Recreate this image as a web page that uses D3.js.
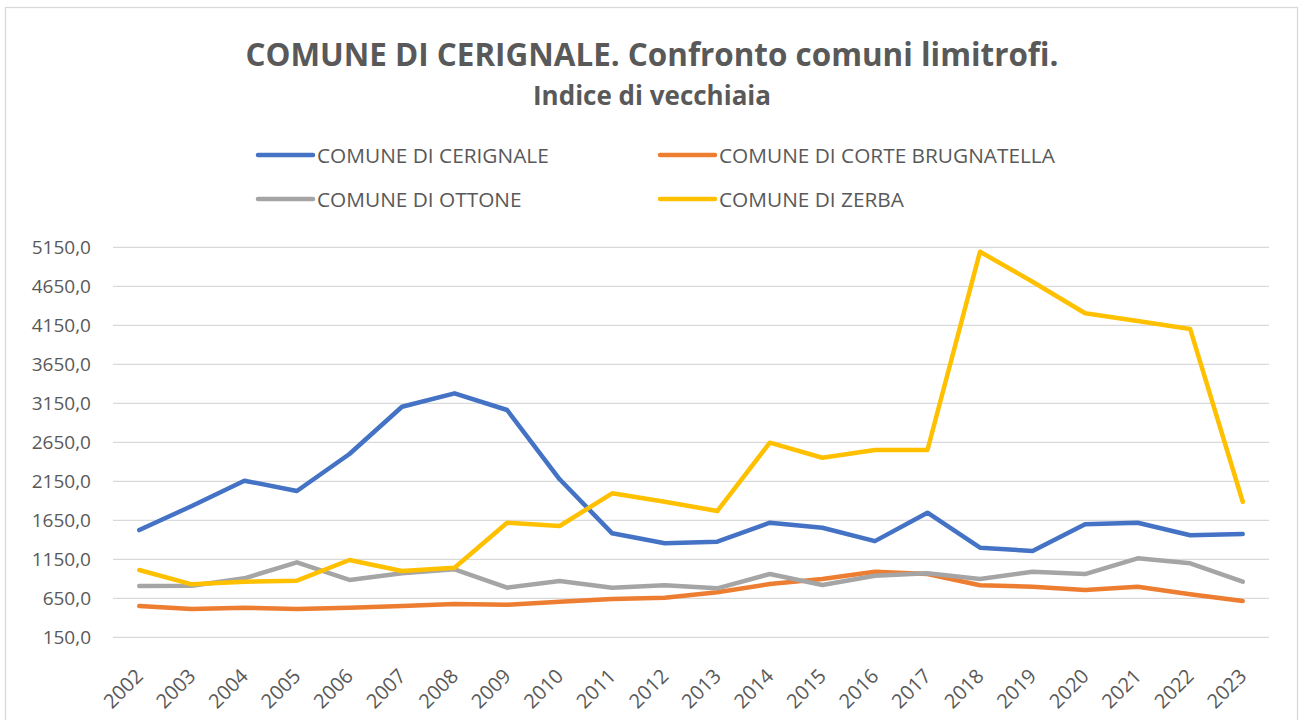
<!DOCTYPE html>
<html>
<head>
<meta charset="utf-8">
<script src="https://cdn.jsdelivr.net/npm/d3@7"></script>
<style>
  html, body { margin: 0; padding: 0; background: #ffffff; }
  svg { display: block; }
  text { font-family: "Open Sans", "DejaVu Sans", sans-serif; fill: #595959; }
</style>
</head>
<body>
<svg id="chart" width="1301" height="720"></svg>
<script>
// Indice di vecchiaia, 2002-2023
const years = ["2002","2003","2004","2005","2006","2007","2008","2009","2010","2011","2012",
               "2013","2014","2015","2016","2017","2018","2019","2020","2021","2022","2023"];

const cerignale = [1525, 1833, 2158, 2026, 2500, 3106, 3278, 3064, 2176, 1483, 1355,
                   1376, 1619, 1555, 1383, 1747, 1299, 1256, 1599, 1619, 1458, 1474];
const corteBrugnatella = [551, 513, 530, 513, 530, 551, 577, 568, 606, 641, 658,
                          727, 833, 897, 991, 961, 817, 799, 756, 799, 701, 615];
const ottone = [808, 810, 906, 1111, 885, 970, 1022, 786, 872, 786, 817,
                778, 961, 820, 940, 970, 897, 991, 961, 1163, 1099, 863];
const zerba = [1013, 829, 863, 876, 1141, 1000, 1042, 1619, 1577, 1996, 1888,
               1769, 2645, 2452, 2551, 2551, 5093, 4709, 4304, 4205, 4102, 1888];

const seriesNames = ["COMUNE DI CERIGNALE", "COMUNE DI CORTE BRUGNATELLA", "COMUNE DI OTTONE", "COMUNE DI ZERBA"];
const seriesColors = ["#4472C4", "#ED7D31", "#A5A5A5", "#FFC000"];
const yTicks = [150, 650, 1150, 1650, 2150, 2650, 3150, 3650, 4150, 4650, 5150];

const series = [cerignale, corteBrugnatella, ottone, zerba].map((values, i) => ({
  name: seriesNames[i], color: seriesColors[i], values
}));

const svg = d3.select("#chart");

// outer chart frame
svg.append("rect")
  .attr("x", 5.5).attr("y", 7.5)
  .attr("width", 1292).attr("height", 720)
  .attr("fill", "#ffffff")
  .attr("stroke", "#D9D9D9").attr("stroke-width", 1.3);

// titles
svg.append("text")
  .attr("x", 652).attr("y", 66)
  .attr("text-anchor", "middle")
  .style("font-size", "31.4px").style("font-weight", "700")
  .text("COMUNE DI CERIGNALE. Confronto comuni limitrofi.");

svg.append("text")
  .attr("x", 652).attr("y", 105)
  .attr("text-anchor", "middle")
  .style("font-size", "26px").style("font-weight", "700")
  .text("Indice di vecchiaia");

// legend (two columns, two rows)
const legendPos = [[258, 155], [660, 155], [258, 199], [660, 199]];
const legend = svg.append("g");
series.forEach((s, i) => {
  const [lx, ly] = legendPos[i];
  legend.append("line")
    .attr("x1", lx).attr("x2", lx + 55)
    .attr("y1", ly).attr("y2", ly)
    .attr("stroke", s.color).attr("stroke-width", 4.5)
    .attr("stroke-linecap", "round");
  legend.append("text")
    .attr("x", lx + 59).attr("y", ly + 7.5)
    .style("font-size", "20.8px")
    .text(s.name);
});

// scales
const x = d3.scaleBand().domain(years).range([113, 1269]);
const y = d3.scaleLinear().domain([150, 5150]).range([637.3, 247.3]);

// horizontal gridlines
svg.append("g")
  .selectAll("line")
  .data(yTicks)
  .join("line")
  .attr("x1", 113).attr("x2", 1269)
  .attr("y1", d => y(d)).attr("y2", d => y(d))
  .attr("stroke", "#D9D9D9").attr("stroke-width", 1.3);

// y axis labels
const fmt = d => d3.format(".1f")(d).replace(".", ",");
const yAxis = svg.append("g")
  .attr("transform", "translate(100,0)")
  .call(d3.axisLeft(y).tickValues(yTicks).tickFormat(fmt).tickSize(0).tickPadding(9));
yAxis.select(".domain").remove();
yAxis.selectAll("text")
  .style("font-size", "19px")
  .style("font-family", "'Open Sans', sans-serif")
  .attr("fill", "#595959");

// x axis labels, rotated
const xAxis = svg.append("g")
  .attr("transform", "translate(0,637.3)")
  .call(d3.axisBottom(x).tickSize(0).tickPadding(0));
xAxis.select(".domain").remove();
xAxis.selectAll("text")
  .style("font-size", "20px")
  .style("font-family", "'Open Sans', sans-serif")
  .attr("fill", "#595959")
  .attr("text-anchor", "end")
  .attr("dy", null)
  .attr("y", 0)
  .attr("transform", "translate(5,40) rotate(-45)");

// series lines
const line = d3.line()
  .x((d, i) => x(years[i]) + x.bandwidth() / 2)
  .y(d => y(d));

svg.append("g")
  .selectAll("path")
  .data(series)
  .join("path")
  .attr("d", d => line(d.values))
  .attr("fill", "none")
  .attr("stroke", d => d.color)
  .attr("stroke-width", 4.5)
  .attr("stroke-linejoin", "round")
  .attr("stroke-linecap", "round");
</script>
</body>
</html>
